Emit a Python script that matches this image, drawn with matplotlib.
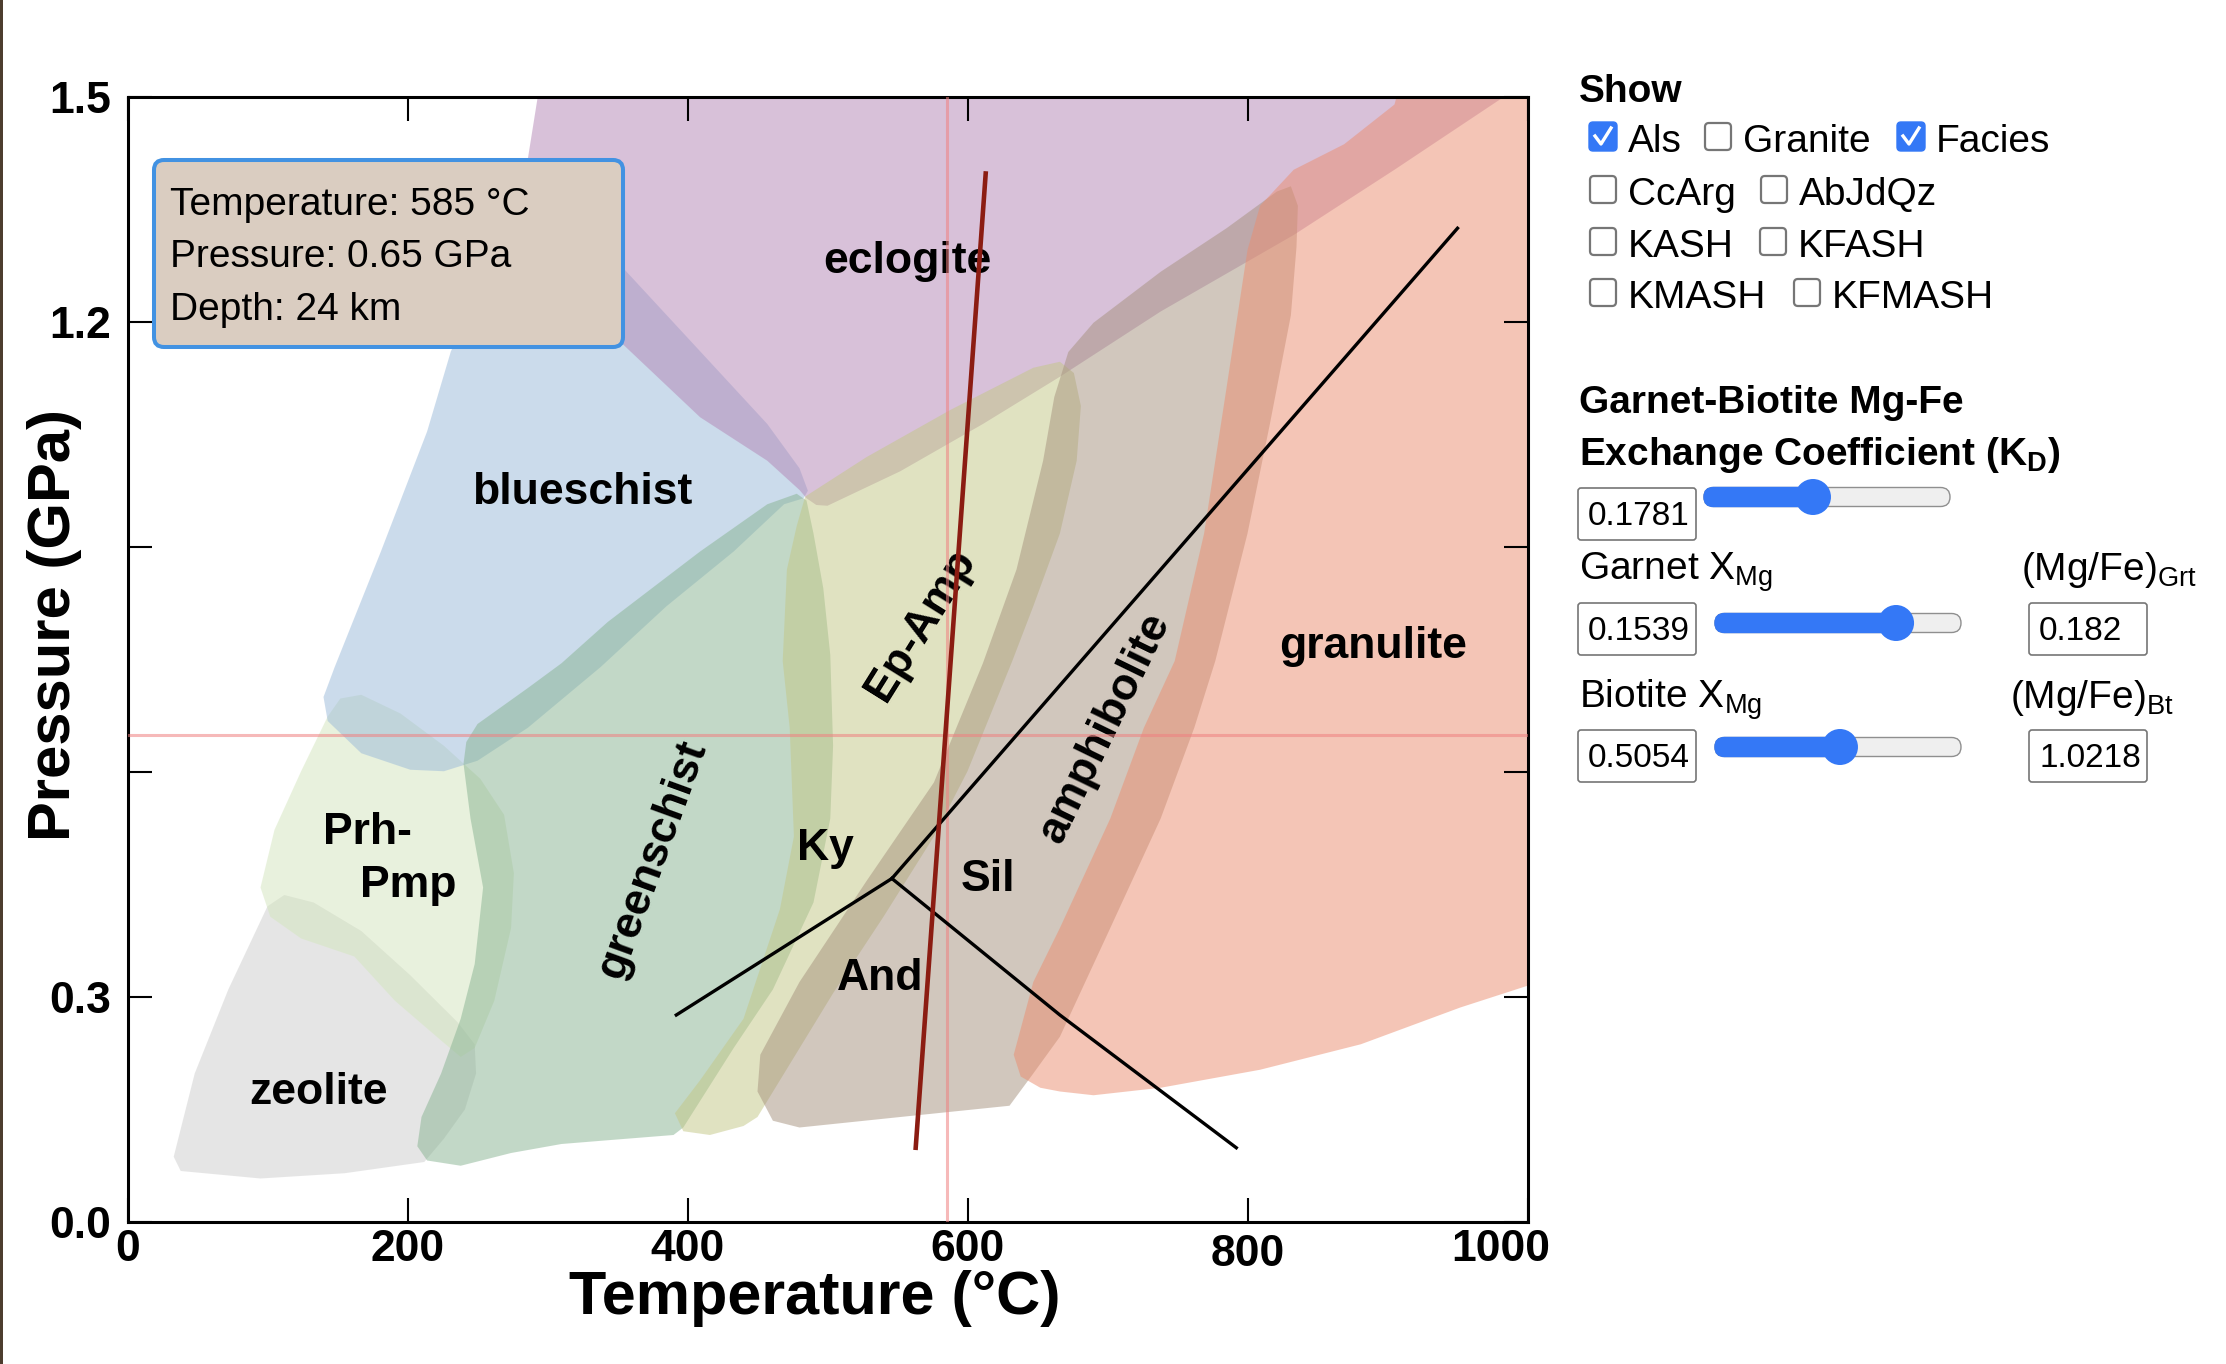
import numpy as np
import matplotlib
matplotlib.use('Agg')
import matplotlib.pyplot as plt
from matplotlib.patches import Polygon, FancyBboxPatch, Circle, Rectangle
from matplotlib.lines import Line2D
from matplotlib.transforms import IdentityTransform, ScaledTranslation

plt.rcParams['font.family'] = ['Liberation Sans', 'DejaVu Sans']
plt.rcParams['mathtext.fontset'] = 'custom'
plt.rcParams['mathtext.rm'] = 'Liberation Sans'
plt.rcParams['mathtext.bf'] = 'Liberation Sans:bold'

# facies fields: outlines as temperature (C) / pressure (GPa)
zeolite_T = [33, 48, 72, 100, 112, 133, 167, 202, 236, 248, 249, 241, 226, 212, 155, 95, 38]
zeolite_P = [0.087, 0.198, 0.310, 0.421, 0.436, 0.426, 0.388, 0.329, 0.266, 0.237, 0.198, 0.150,
             0.111, 0.080, 0.065, 0.058, 0.068]

prhpmp_T = [167, 195, 226, 252, 269, 276, 274, 262, 248, 238, 224, 191, 162, 124, 102, 95, 105, 124, 143, 152]
prhpmp_P = [0.703, 0.678, 0.635, 0.591, 0.543, 0.465, 0.392, 0.295, 0.232, 0.220, 0.242, 0.295,
            0.354, 0.378, 0.407, 0.446, 0.523, 0.601, 0.674, 0.698]

blueschist_T = [140, 148, 181, 214, 231, 255, 300, 354, 409, 457, 480, 486, 483, 469, 433, 385, 338,
                286, 250, 226, 202, 167, 143]
blueschist_P = [0.70, 0.74, 0.894, 1.054, 1.161, 1.25, 1.29, 1.272, 1.161, 1.064, 1.005, 0.975, 0.965,
                0.957, 0.894, 0.821, 0.740, 0.659, 0.615, 0.601, 0.603, 0.625, 0.668]

greenschist_T = [485, 490, 497, 502, 504, 502, 490, 461, 433, 397, 390, 343, 310, 274, 238, 214, 207,
                 210, 224, 238, 248, 254, 245, 240, 242, 250, 286, 310, 343, 409, 457, 478]
greenschist_P = [0.962, 0.918, 0.845, 0.756, 0.635, 0.538, 0.426, 0.310, 0.232, 0.126, 0.116, 0.109,
                 0.104, 0.092, 0.075, 0.082, 0.101, 0.140, 0.198, 0.271, 0.344, 0.446, 0.538, 0.611,
                 0.640, 0.664, 0.712, 0.745, 0.800, 0.894, 0.957, 0.971]

eclogite_T = [290, 293, 286, 292, 312, 354, 409, 457, 480, 485, 492, 500, 552, 611, 666, 738, 833,
              905, 983, 990]
eclogite_P = [1.56, 1.5, 1.418, 1.33, 1.25, 1.170, 1.073, 1.015, 0.976, 0.965, 0.956, 0.955, 1.001,
              1.064, 1.127, 1.214, 1.316, 1.403, 1.5, 1.56]

epamp_T = [484, 488, 528, 588, 647, 666, 676, 681, 678, 666, 647, 632, 600, 576, 540, 504, 469, 450,
           440, 416, 397, 391, 409, 440, 466, 476, 473, 468, 471, 478]
epamp_P = [0.967, 0.972, 1.020, 1.083, 1.139, 1.147, 1.132, 1.088, 1.015, 0.918, 0.821, 0.748, 0.601,
           0.514, 0.407, 0.305, 0.198, 0.140, 0.128, 0.116, 0.121, 0.145, 0.189, 0.271, 0.417, 0.514,
           0.659, 0.748, 0.870, 0.928]

amphibolite_T = [452, 480, 528, 576, 611, 635, 654, 662, 672, 690, 738, 785, 821, 831, 836, 835, 831,
                 816, 800, 777, 762, 738, 702, 666, 647, 630, 552, 480, 461, 450]
amphibolite_P = [0.223, 0.320, 0.455, 0.586, 0.745, 0.870, 1.015, 1.10, 1.16, 1.199, 1.267, 1.325,
                 1.374, 1.381, 1.355, 1.30, 1.209, 1.064, 0.918, 0.748, 0.659, 0.538, 0.392, 0.247,
                 0.198, 0.155, 0.140, 0.126, 0.135, 0.174]

granulite_T = [633, 647, 666, 702, 726, 748, 769, 785, 800, 809, 833, 869, 905, 915, 1050, 1050, 1000,
               952, 881, 809, 738, 690, 666, 652, 638]
granulite_P = [0.223, 0.320, 0.392, 0.538, 0.659, 0.748, 0.918, 1.112, 1.296, 1.355, 1.403, 1.437,
               1.490, 1.56, 1.56, 0.30, 0.315, 0.286, 0.237, 0.203, 0.179, 0.169, 0.174, 0.179, 0.194]

# aluminosilicate reactions
ky_and_T = [392, 546]
ky_and_P = [0.276, 0.458]
ky_sil_T = [546, 950]
ky_sil_P = [0.458, 1.325]
and_sil_T = [546, 666, 792]
and_sil_P = [0.458, 0.276, 0.099]

# garnet-biotite thermometer line
grt_bt_T = [563, 613]
grt_bt_P = [0.099, 1.398]

cursor_T = 585
cursor_P = 0.65
cursor_depth = 24

# control panel
show_names = ['Als', 'Granite', 'Facies', 'CcArg', 'AbJdQz', 'KASH', 'KFASH', 'KMASH', 'KFMASH']
show_checked = [True, False, True, False, False, False, False, False, False]
kd = '0.1781'
grt_xmg = '0.1539'
bt_xmg = '0.5054'
grt_ratio = '0.182'
bt_ratio = '1.0218'

W, H = 2226, 1364
fig = plt.figure(figsize=(W / 100, H / 100), dpi=100)
pix = IdentityTransform()

ax = fig.add_axes([127.5 / W, 142 / H, 1400 / W, 1125 / H])
ax.set_xlim(0, 1000)
ax.set_ylim(0, 1.5)

fields = [(zeolite_T, zeolite_P, '#cdcdcd'),
          (prhpmp_T, prhpmp_P, '#d3e5bd'),
          (blueschist_T, blueschist_P, '#99b9d9'),
          (greenschist_T, greenschist_P, '#87b391'),
          (eclogite_T, eclogite_P, '#b385b5'),
          (epamp_T, epamp_P, '#c3c785'),
          (amphibolite_T, amphibolite_P, '#a5917d'),
          (granulite_T, granulite_P, '#eb8d6f')]
for T, P, c in fields:
    ax.add_patch(Polygon(np.column_stack([T, P]), closed=True, fc=c, alpha=0.5, lw=0, zorder=1))

lab = dict(fontsize=32, fontweight='bold', zorder=3)
ax.text(557, 1.28, 'eclogite', ha='center', va='center', **lab)
ax.text(325, 0.972, 'blueschist', ha='center', va='center', **lab)
ax.text(890, 0.767, 'granulite', ha='center', va='center', **lab)
ax.text(375, 0.483, 'greenschist', ha='center', va='center', rotation=70, rotation_mode='anchor', **lab)
ax.text(567, 0.796, 'Ep-Amp', ha='center', va='center', rotation=58, rotation_mode='anchor', **lab)
ax.text(698, 0.659, 'amphibolite', ha='center', va='center', rotation=64, rotation_mode='anchor', **lab)
ax.text(140, 0.504, 'Prh-', ha='left', va='baseline', **lab)
ax.text(166, 0.433, 'Pmp', ha='left', va='baseline', **lab)
ax.text(87, 0.157, 'zeolite', ha='left', va='baseline', **lab)
ax.text(478, 0.483, 'Ky', ha='left', va='baseline', **lab)
ax.text(595, 0.441, 'Sil', ha='left', va='baseline', **lab)
ax.text(507, 0.309, 'And', ha='left', va='baseline', **lab)

ax.axvline(cursor_T, color='#f08080', alpha=0.55, lw=2.2, zorder=3.5)
ax.axhline(cursor_P, color='#f08080', alpha=0.55, lw=2.2, zorder=3.5)

for T, P in [(ky_and_T, ky_and_P), (ky_sil_T, ky_sil_P), (and_sil_T, and_sil_P)]:
    ax.plot(T, P, color='black', lw=2.4, zorder=4)
ax.plot(grt_bt_T, grt_bt_P, color='#8b1c12', lw=3.3, zorder=5)

ax.set_xticks([0, 200, 400, 600, 800, 1000])
ax.set_yticks([0, 0.3, 0.6, 0.9, 1.2, 1.5])
ax.set_yticklabels(['0.0', '0.3', '', '', '1.2', '1.5'])
ax.tick_params(direction='in', length=17, width=1.5, top=True, right=True, labelsize=32)
ax.tick_params(axis='x', pad=5)
ax.tick_params(axis='y', pad=12)
for t in ax.get_xticklabels() + ax.get_yticklabels():
    t.set_fontweight('bold')
# the last two x labels sit a little off their ticks in the original
xl = ax.get_xticklabels()
xl[4].set_transform(xl[4].get_transform() + ScaledTranslation(0, -0.05, fig.dpi_scale_trans))
xl[5].set_transform(xl[5].get_transform() + ScaledTranslation(-0.27, 0, fig.dpi_scale_trans))
for s in ax.spines.values():
    s.set_linewidth(2.2)

fig.text(815 / W, 1 - 1314 / H, 'Temperature (°C)', fontsize=44, fontweight='bold', ha='center', va='baseline')
fig.text(55 / W, 1 - 625 / H, 'Pressure (GPa)', fontsize=43, fontweight='bold', rotation=90,
         ha='center', va='center')


def box(x0, y0, x1, y1, fc, ec, lw, r, z=5):
    p = FancyBboxPatch((x0, H - y1), x1 - x0, y1 - y0, boxstyle='round,pad=0,rounding_size=%g' % r,
                       fc=fc, ec=ec, lw=lw, transform=pix, zorder=z)
    fig.add_artist(p)


def txt(x, y, s, size, weight='normal'):
    fig.text(x / W, 1 - y / H, s, fontsize=size, fontweight=weight, va='baseline', zorder=11)


# readout box
box(154, 160, 623, 347, '#dacdc1', '#4292e2', 2.9, 10, z=10)
txt(170, 215, 'Temperature: %d °C' % cursor_T, 28)
txt(170, 267, 'Pressure: %.2f GPa' % cursor_P, 28)
txt(170, 320, 'Depth: %d km' % cursor_depth, 28)

# left window border
fig.add_artist(Rectangle((0, 0), 3, H, fc='#4d3d2e', ec='none', transform=pix))

# checkboxes
txt(1579, 102, 'Show', 28, 'bold')
rows = [152, 152, 152, 205, 205, 257, 257, 308, 308]
box_x = [1589, 1704, 1897, 1589, 1760, 1589, 1759, 1589, 1793]
for name, on, y, bx in zip(show_names, show_checked, rows, box_x):
    if on:
        box(bx, y - 30, bx + 28, y - 1, '#3478f6', '#3478f6', 1.0, 4)
        fig.add_artist(Line2D([bx + 6, bx + 12, bx + 22], [H - (y - 16), H - (y - 8), H - (y - 24)],
                              color='white', lw=2.4, transform=pix, zorder=6))
    else:
        box(bx + 1, y - 29, bx + 27, y - 2, 'white', '#767676', 1.6, 4)
    txt(bx + 39, y, name, 28)

# sliders and inputs
txt(1579, 413, 'Garnet-Biotite Mg-Fe', 28, 'bold')
txt(1579, 465, r'Exchange Coefficient ($\mathbf{K_D}$)', 28, 'bold')
txt(1579, 580, r'Garnet $\mathrm{X_{Mg}}$', 28)
txt(2021, 580, r'(Mg/Fe)$_\mathrm{Grt}$', 28)
txt(1579, 708, r'Biotite $\mathrm{X_{Mg}}$', 28)
txt(2010, 708, r'(Mg/Fe)$_\mathrm{Bt}$', 28)


def inbox(x0, y0, x1, y1, s):
    box(x0, y0, x1, y1, 'white', '#767676', 1.2, 3)
    txt(x0 + 10, y1 - 15, s, 24)


def slider(x0, x1, yc, frac):
    h = 19
    box(x0, yc - h / 2, x1, yc + h / 2, '#efefef', '#8f8f8f', 1.0, h / 2)
    xt = x0 + frac * (x1 - x0)
    box(x0, yc - h / 2, xt, yc + h / 2, '#3478f6', '#3478f6', 1.0, h / 2)
    fig.add_artist(Circle((xt, H - yc), 18, fc='#3478f6', ec='none', transform=pix, zorder=6))


inbox(1578, 488, 1696, 540, kd)
slider(1704, 1950, 497, 0.443)
inbox(1578, 603, 1696, 655, grt_xmg)
slider(1715, 1961, 623, 0.736)
inbox(2029, 603, 2147, 655, grt_ratio)
inbox(1578, 730, 1696, 782, bt_xmg)
slider(1715, 1961, 747, 0.508)
inbox(2029, 730, 2147, 782, bt_ratio)

fig.savefig('out.png', dpi=100)
